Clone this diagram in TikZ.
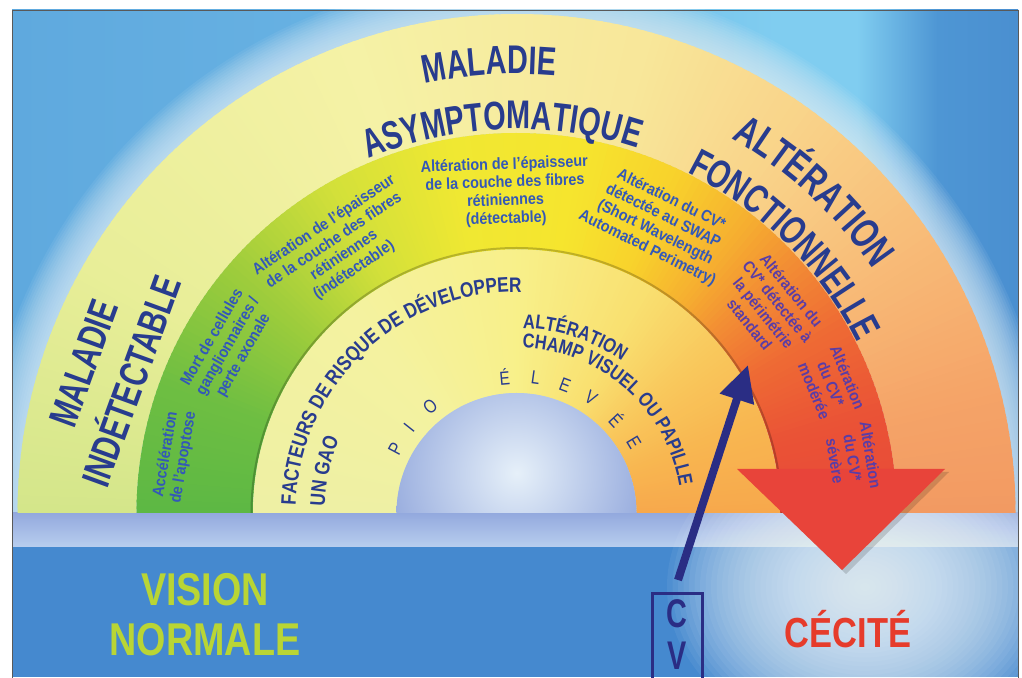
\documentclass[tikz,border=0pt]{standalone}
\usepackage{fontspec}
\newfontfamily\cond[FakeStretch=0.82]{Liberation Sans}
\newfontfamily\condt[FakeStretch=0.72]{Liberation Sans}
\newfontfamily\medf[FakeStretch=0.9]{Liberation Sans}
\usetikzlibrary{decorations.text,arrows.meta}

\definecolor{navy}{HTML}{283C8E}
\definecolor{tblue}{HTML}{3358B8}
\definecolor{tpurple}{HTML}{5A3DA6}
\definecolor{vis}{HTML}{B9D535}
\definecolor{cec}{HTML}{E63B2B}
\definecolor{cvblue}{HTML}{2A2D84}
\definecolor{arrred}{HTML}{E8443A}
\definecolor{bgA}{HTML}{5FA9DE}
\definecolor{bgB}{HTML}{6BB6E5}
\definecolor{bgC}{HTML}{80CDF0}
\definecolor{bgD}{HTML}{4E96D4}
\definecolor{bgE}{HTML}{4A8FD0}
\definecolor{haloc}{HTML}{DCEEF9}
\definecolor{stripT}{HTML}{93A9DE}
\definecolor{stripB}{HTML}{B8CEEE}
\definecolor{botblue}{HTML}{4589CF}
\definecolor{glowc}{HTML}{F2FAFD}
\definecolor{holeIn}{HTML}{E6F0F9}
\definecolor{holeOut}{HTML}{8CA2DA}
% outer band
\definecolor{oa}{HTML}{F29A62}
\definecolor{ob}{HTML}{F5A468}
\definecolor{oc}{HTML}{F8BC78}
\definecolor{od}{HTML}{F9D48A}
\definecolor{oe}{HTML}{F8E79A}
\definecolor{of}{HTML}{F5F2A6}
\definecolor{og}{HTML}{E8EE98}
\definecolor{oh}{HTML}{D4E68A}
% middle band
\definecolor{ma}{HTML}{E84A38}
\definecolor{mb}{HTML}{EA5236}
\definecolor{mc}{HTML}{EE6A34}
\definecolor{md}{HTML}{F28C34}
\definecolor{me}{HTML}{F6B030}
\definecolor{mf}{HTML}{F8D22C}
\definecolor{mg}{HTML}{F6E52E}
\definecolor{mh}{HTML}{F0E832}
\definecolor{mi}{HTML}{D2E03A}
\definecolor{mj}{HTML}{9CCC3C}
\definecolor{mk}{HTML}{6EBE42}
\definecolor{ml}{HTML}{5DB844}
% inner band
\definecolor{iA}{HTML}{F7A84C}
\definecolor{iB}{HTML}{F8B650}
\definecolor{iC}{HTML}{F9C85C}
\definecolor{iD}{HTML}{F9E070}
\definecolor{iE}{HTML}{F8F08A}
\definecolor{iF}{HTML}{F4F2A0}
\definecolor{iG}{HTML}{EEF0A4}

\pgfdeclarehorizontalshading{bgtop}{100bp}{color(0bp)=(bgA); color(25bp)=(bgA); color(49bp)=(bgB); color(63bp)=(bgC); color(67bp)=(bgC); color(71bp)=(bgD); color(75bp)=(bgE); color(100bp)=(bgE)}

\newcommand\ftitle{\condt\bfseries\fontsize{40}{40}\selectfont}
\newcommand\ftitlenode{\condt\bfseries\fontsize{40}{51}\selectfont}
\newcommand\finner{\cond\bfseries\fontsize{21}{21}\selectfont}
\newcommand\finnerb{\cond\bfseries\fontsize{20}{20}\selectfont}
\newcommand\fsmall{\medf\bfseries\fontsize{16}{18}\selectfont}

\newcommand\bandfill[3]{%
  \foreach \aA/\cA/\aB/\cB in {#3} {%
    \pgfmathtruncatemacro\nst{\aB-\aA}%
    \foreach \kk in {1,...,\nst} {%
      \pgfmathsetmacro\bfA{\aA+\kk-1}%
      \pgfmathsetmacro\bfB{\aA+\kk+0.4}%
      \pgfmathtruncatemacro\pct{round(100*(\kk-0.5)/\nst)}%
      \fill[fill={\cB!\pct!\cA}] (\bfA:#1) arc[start angle=\bfA,end angle=\bfB,radius=#1] -- (\bfB:#2) arc[start angle=\bfB,end angle=\bfA,radius=#2] -- cycle;
    }%
  }%
}
\newcommand\arctext[7]{%
  \path[decorate,decoration={text along path,text align=#4,text color=#6,text={|#5|#7}}] (#2:#1) arc[start angle=#2,end angle=#3,radius=#1];%
}

\tikzset{
  sm/.style={font=\fsmall, align=center, inner sep=0pt},
  pio/.style={font=\cond\fontsize{19}{19}\selectfont, text=navy, inner sep=0pt},
}

\begin{document}
\begin{tikzpicture}[x=1pt,y=1pt]
\useasboundingbox (0,0) rectangle (1022,677);
\fill[white] (0,0) rectangle (1022,677);
\coordinate (C) at (516.5,164);
\begin{scope}
\clip (12,0) rectangle (1018,667);
% top background
\shade[shading=bgtop] (12,164) rectangle (1018,667);
% halo around arch
\begin{scope}
\clip (12,164) rectangle (1018,667);
\foreach \i in {1,...,16} \fill[haloc, opacity=0.08] (C) circle ({499+2.4*\i});
\end{scope}
% strip and bottom
\shade[top color=stripT, bottom color=stripB] (12,130) rectangle (1018,164);
\fill[botblue] (12,0) rectangle (1018,130);
\begin{scope}
\clip (12,0) rectangle (1018,164);
\foreach \i in {1,...,36} \fill[glowc, opacity=0.06] (865,90) ellipse ({5.5*\i} and {4.4*\i});
\end{scope}
% bands
\begin{scope}[shift={(C)}]
\begin{scope}
\clip (-520,0) rectangle (520,520);
\bandfill{499}{380}{0/oa/15/ob, 15/ob/35/oc, 35/oc/55/od, 55/od/75/oe, 75/oe/110/of, 110/of/150/og, 150/og/180/oh}
\bandfill{380}{263.5}{0/ma/15/mb, 15/mb/30/mc, 30/mc/42/md, 42/md/52/me, 52/me/65/mf, 65/mf/80/mg, 80/mg/100/mh, 100/mh/120/mi, 120/mi/140/mj, 140/mj/160/mk, 160/mk/180/ml}
\bandfill{263.5}{120}{0/iA/20/iB, 20/iB/40/iC, 40/iC/60/iD, 60/iD/90/iE, 90/iE/130/iF, 130/iF/180/iG}
\draw[black, opacity=0.22, line width=2] (265,0) arc[start angle=0,end angle=180,radius=265];
\begin{scope}
\clip (120,0) arc[start angle=0,end angle=180,radius=120] -- cycle;
\shade[inner color=holeIn, outer color=holeOut] (0,40) circle (150);
\end{scope}
\end{scope}
\end{scope}
% red arrow head
\fill[black, opacity=0.15] (741,205) -- (949,205) -- (846,103) -- cycle;
\fill[arrred] (737,208) -- (945,208) -- (842,107) -- cycle;

% ---------- texts ----------
\begin{scope}[shift={(C)}]
\node[font=\ftitlenode, text=navy, align=center, rotate=70, inner sep=0pt] (mi) at (161:432) {MALADIE\\INDÉTECTABLE};
\arctext{439}{153.5}{33.5}{center}{\ftitle}{navy}{MALADIE}
\arctext{384}{152.2}{32.2}{center}{\ftitle}{navy}{ASYMPTOMATIQUE}
\arctext{432}{107.2}{-12.8}{center}{\fontsize{42}{42}\condt\bfseries\selectfont}{navy}{ALTÉRATION}
\arctext{381}{105}{-15}{center}{\ftitle}{navy}{FONCTIONNELLE}

\arctext{221}{178}{40}{left}{\finner}{navy}{FACTEURS DE RISQUE DE DÉVELOPPER}
\arctext{192}{178}{120}{left}{\finner}{navy}{UN GAO}
\arctext{185}{88}{20}{left}{\finnerb}{navy}{ALTÉRATION}
\arctext{165}{88}{-20}{left}{\finnerb}{navy}{CHAMP VISUEL OU PAPILLE}

\foreach \ch/\ang [count=\i] in {P/152, I/141.6, O/129, É/95, L/82, E/69.3, V/57, É/42.8, E/31}
  \node[pio, rotate=\ang-90] (pio\i) at (\ang:137) {\ch};

\node[sm, text=tblue, rotate=80.5] (b1) at (170.5:346.5) {Accélération\\de l’apoptose};
\node[sm, text=tblue, rotate=60] (b2) at (150:333) {Mort de cellules\\ganglionnaires /\\perte axonale};
\node[sm, text=tblue, rotate=33.8] (b3) at (123.8:319) {Altération de l’épaisseur\\de la couche des fibres\\rétiniennes\\(indétectable)};
\node[sm, text=tblue, rotate=2] (b4) at (92:321) {Altération de l’épaisseur\\de la couche des fibres\\rétiniennes\\(détectable)};
\node[sm, text=tblue, rotate=-26.3] (b5) at (63.7:322) {Altération du CV*\\détectée au SWAP\\(Short Wavelength\\Automated Perimetry)};
\node[sm, text=tpurple, rotate=-51] (b6) at (39:327) {Altération du\\CV* détectée à\\la périmétrie\\standard};
\node[sm, text=tpurple, rotate=-67.7] (b7) at (22.3:340) {Altération\\du CV*\\modérée};
\node[sm, text=tpurple, rotate=-80.7] (b8) at (9.3:341) {Altération\\du CV*\\sévère};
\end{scope}

% bottom texts
\node[font=\cond\bfseries\fontsize{46}{50}\selectfont, text=vis, align=center, inner sep=0pt] (vision) at (205,62) {VISION\\NORMALE};
\node[font=\cond\bfseries\fontsize{42}{42}\selectfont, text=cec, anchor=base, inner sep=0pt] (cecite) at (848,30) {CÉCITÉ};
\node[draw=cvblue, line width=3pt, text=cvblue, anchor=north, minimum width=50pt, inner xsep=0pt, inner ysep=6pt, text depth=20pt, align=center, font=\condt\bfseries\fontsize{40}{42}\selectfont] (cv) at (677,85) {C\\V};
\coordinate (cvs) at (678,97);
\coordinate (cvtip) at (748,312);
\draw[cvblue, line width=8pt, -{Triangle[length=36pt,width=34pt]}] (cvs) -- (cvtip);
\end{scope}
\draw[black!65, line width=0.8pt] (12,-2) rectangle (1018,667);
\end{tikzpicture}
\end{document}
